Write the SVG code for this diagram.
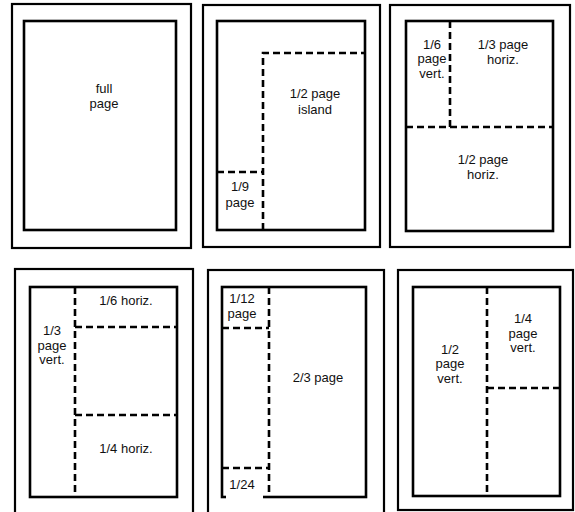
<svg xmlns="http://www.w3.org/2000/svg" width="575" height="512" viewBox="0 0 575 512">
<style>
.outer{fill:none;stroke:#000;stroke-width:2.2}
.inner{fill:#fff;stroke:#000;stroke-width:2.6}
.dash{fill:none;stroke:#000;stroke-width:2.6;stroke-dasharray:7 4}
text{font-family:"Liberation Sans",Arial,sans-serif;font-size:13px;fill:#111;text-anchor:middle}
</style>
<rect width="575" height="512" fill="#fff"/>
<g id="full-page">
<rect class="outer" x="12" y="4" width="179" height="244"/>
<rect class="inner" x="24" y="21" width="152" height="209"/>
<text x="104" y="93">full</text>
<text x="104" y="108">page</text>
</g>
<g id="island-page">
<rect class="outer" x="203" y="5" width="177" height="242"/>
<rect class="inner" x="217" y="21" width="148" height="209"/>
<text x="315" y="98">1/2 page</text>
<text x="315" y="114">island</text>
<text x="240" y="191">1/9</text>
<text x="240" y="207">page</text>
</g>
<g id="thirds-page">
<rect class="outer" x="390" y="5" width="180" height="242"/>
<rect class="inner" x="406" y="21" width="147" height="210"/>
<text x="432" y="49">1/6</text>
<text x="432" y="63">page</text>
<text x="432" y="78">vert.</text>
<text x="503" y="49">1/3 page</text>
<text x="503" y="64">horiz.</text>
<text x="483" y="164">1/2 page</text>
<text x="483" y="179">horiz.</text>
</g>
<g id="vertical-third-page">
<rect class="outer" x="15" y="269" width="178" height="260"/>
<rect class="inner" x="30" y="287" width="147" height="210"/>
<text x="126" y="305">1/6 horiz.</text>
<text x="52" y="335">1/3</text>
<text x="52" y="350">page</text>
<text x="52" y="364">vert.</text>
<text x="126" y="453">1/4 horiz.</text>
</g>
<g id="two-thirds-page">
<rect class="outer" x="208" y="270" width="176" height="260"/>
<rect class="inner" x="222" y="287" width="144" height="210"/>
<text x="242" y="303">1/12</text>
<text x="242" y="318">page</text>
<text x="318" y="382">2/3 page</text>
</g>
<g id="half-vertical-page">
<rect class="outer" x="398" y="270" width="175" height="240"/>
<rect class="inner" x="413" y="287" width="147" height="209"/>
<text x="450" y="354">1/2</text>
<text x="450" y="368">page</text>
<text x="450" y="383">vert.</text>
<text x="523" y="323">1/4</text>
<text x="523" y="338">page</text>
<text x="523" y="352">vert.</text>
</g>
<g id="connectors">
<path class="dash" d="M263 230V53H365M217 172H263"/>
<path class="dash" d="M450 21V127M406 127H553"/>
<path class="dash" d="M75 287V497M75 327H177M75 415H177"/>
<path class="dash" d="M269 287V497M222 328H269M222 468H269"/>
<path class="dash" d="M487 287V496M487 388H560"/>
</g>
<g id="label-1-24">
<rect x="226" y="472" width="37" height="27" fill="#fff"/>
<text x="242" y="489">1/24</text>
</g>
</svg>
